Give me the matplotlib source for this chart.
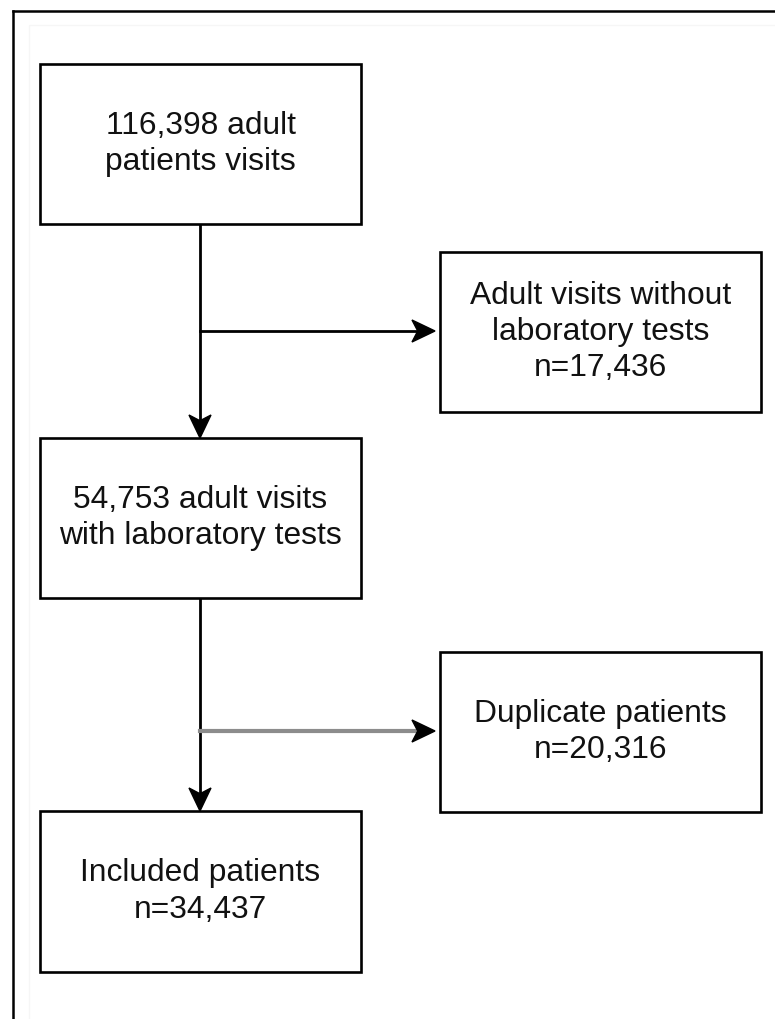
import matplotlib
matplotlib.use("Agg")
import matplotlib.pyplot as plt
from matplotlib.patches import Rectangle, Polygon

# ---- data (flowchart content) ----
box_labels = [
    ["116,398 adult", "patients visits"],
    ["Adult visits without", "laboratory tests", "n=17,436"],
    ["54,753 adult visits", "with laboratory tests"],
    ["Duplicate patients", "n=20,316"],
    ["Included patients", "n=34,437"],
]

# ---- layout (pixel coordinates, y downward) ----
W, H = 775, 1019
boxes = [  # x0, y0, x1, y1
    (40, 64, 361, 224),
    (440, 252, 761, 412),
    (40, 438, 361, 598),
    (440, 652, 761, 812),
    (40, 811, 361, 972),
]
line_gap = 36.5
font = "Liberation Sans"
fsize = 22.9

fig = plt.figure(figsize=(W / 100, H / 100), dpi=100)
ax = fig.add_axes([0, 0, 1, 1])
ax.set_xlim(0, W)
ax.set_ylim(H, 0)
ax.axis("off")

# outer frame (only left and top visible)
ax.plot([13, 13], [H + 5, 11], color="black", lw=1.8, solid_capstyle="projecting")
ax.plot([13, W + 5], [11, 11], color="black", lw=1.8, solid_capstyle="projecting")
# faint inner frame
ax.add_patch(Rectangle((29, 25), W, H, fill=False, edgecolor="#f6f6f6", lw=1.0))

for (x0, y0, x1, y1), lines in zip(boxes, box_labels):
    ax.add_patch(Rectangle((x0, y0), x1 - x0, y1 - y0, fill=True,
                           facecolor="white", edgecolor="black", lw=1.9, zorder=3))
    cx, cy = (x0 + x1) / 2, (y0 + y1) / 2
    n = len(lines)
    for i, t in enumerate(lines):
        ax.text(cx, cy + (i - (n - 1) / 2) * line_gap, t, ha="center", va="center",
                fontsize=fsize, family=font, color="#111111", zorder=4)


def head(tx, ty, direction, L=23, Wd=22):
    if direction == "down":
        pts = [(tx, ty), (tx - Wd / 2, ty - L), (tx, ty - 0.75 * L), (tx + Wd / 2, ty - L)]
    else:
        pts = [(tx, ty), (tx - L, ty - Wd / 2), (tx - 0.75 * L, ty), (tx - L, ty + Wd / 2)]
    ax.add_patch(Polygon(pts, closed=True, facecolor="black", edgecolor="black",
                         lw=1.0, zorder=5))


xc = 200
# vertical trunk 1
ax.plot([xc, xc], [224, 430], color="black", lw=2.0, zorder=2)
head(xc, 438, "down")
# branch 1
ax.plot([xc, 425], [331, 331], color="black", lw=2.0, zorder=2)
head(435, 331, "right")
# vertical trunk 2
ax.plot([xc, xc], [598, 803], color="black", lw=2.0, zorder=2)
head(xc, 811, "down")
# branch 2 (grey line)
ax.plot([xc, 425], [731, 731], color="#8c8c8c", lw=3.0, zorder=2)
head(435, 731, "right")

fig.savefig("out.png", dpi=100, facecolor="white")
